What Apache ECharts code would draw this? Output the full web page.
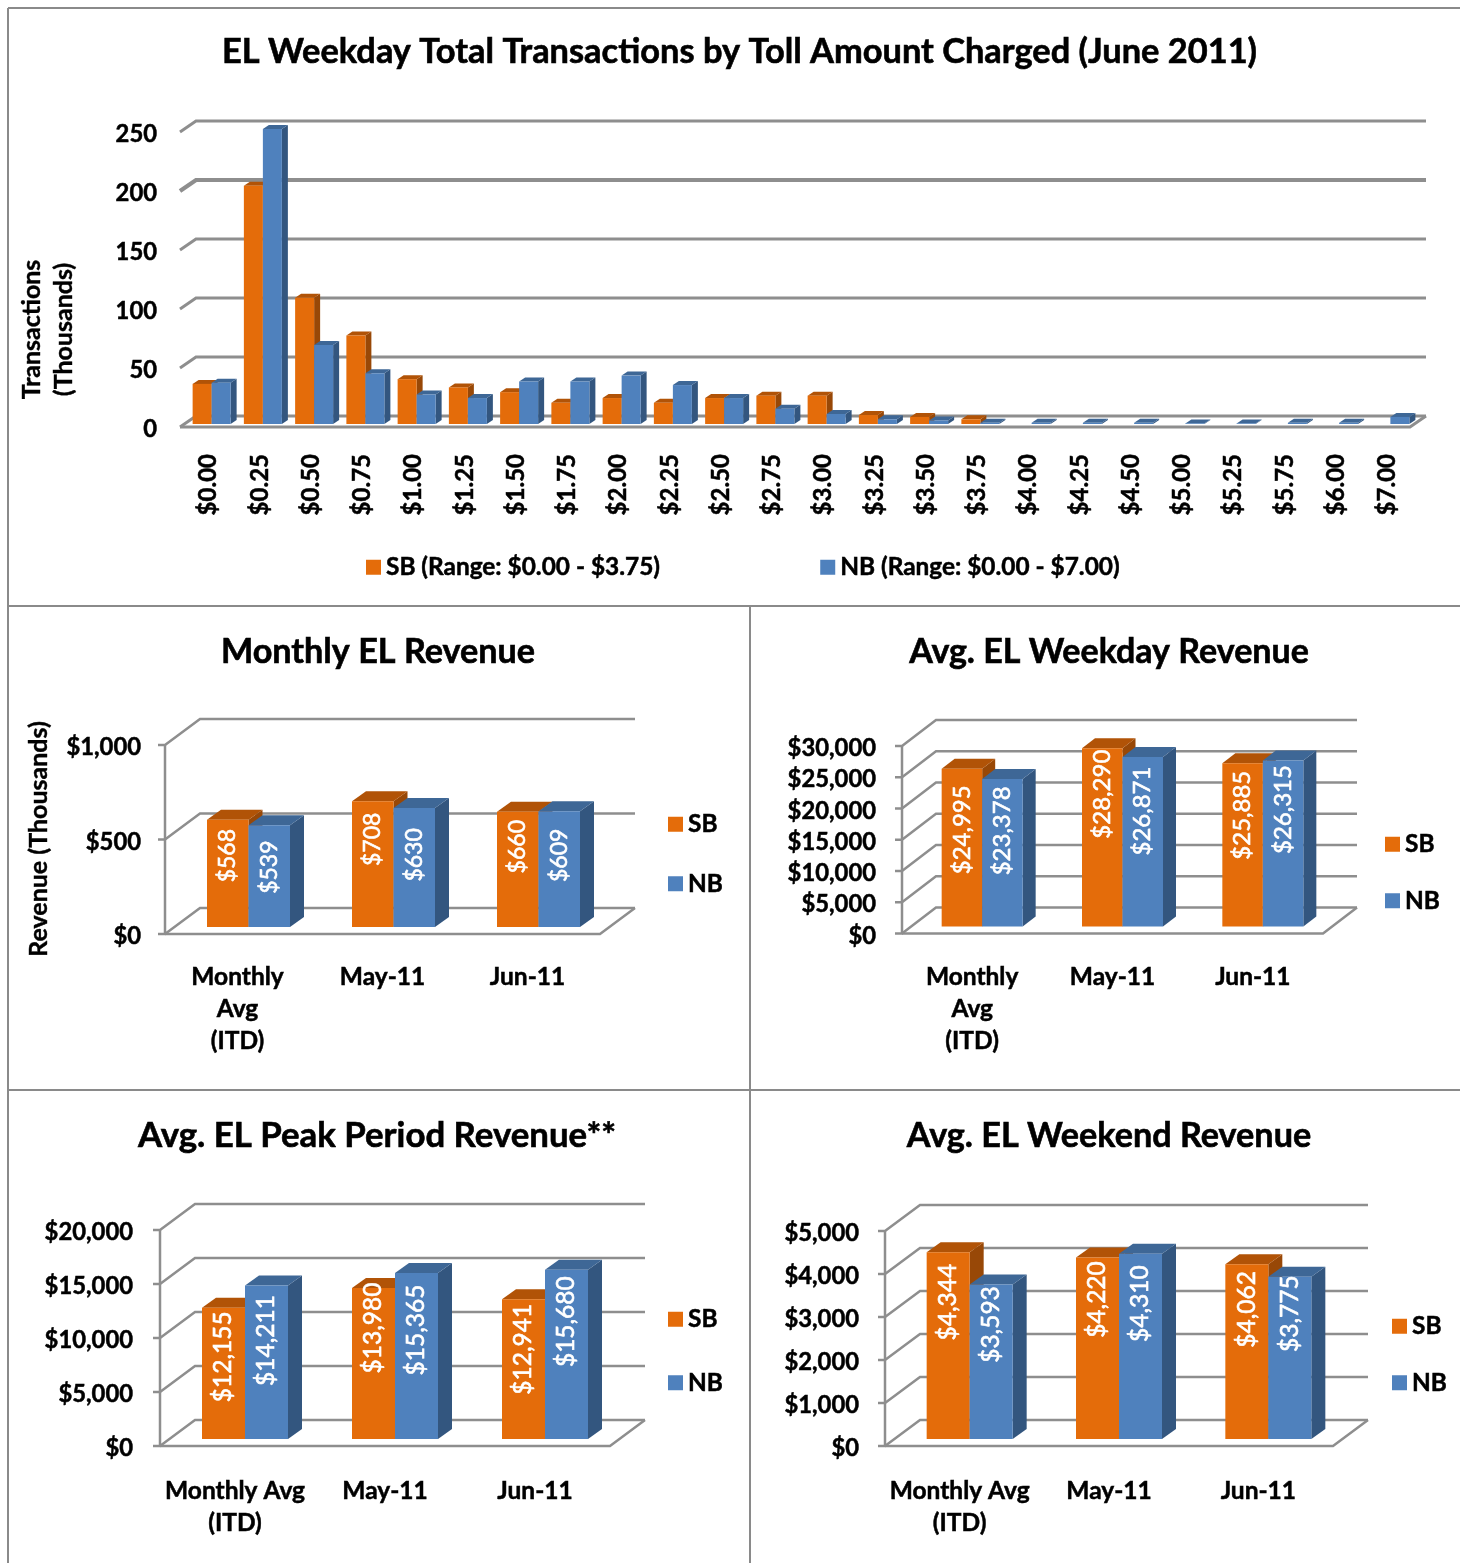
<!DOCTYPE html>
<html><head><meta charset="utf-8">
<style>html,body{margin:0;padding:0;background:#fff}#c{width:1460px;height:1563px}</style>
<script src="https://cdn.jsdelivr.net/npm/echarts@6/dist/echarts.min.js"></script>
</head><body><div id="c"></div>
<script>
// ---------- DATA ----------
const tollCategories = ['$0.00','$0.25','$0.50','$0.75','$1.00','$1.25','$1.50','$1.75','$2.00','$2.25','$2.50','$2.75','$3.00','$3.25','$3.50','$3.75','$4.00','$4.25','$4.50','$5.00','$5.25','$5.75','$6.00','$7.00'];
const tollSB = [34,202,107,75,38,31,27,18,22,18,22,24,24,7.6,6,4,null,null,null,null,null,null,null,null];
const tollNB = [35,250,67,43,25,22,36,36,41,33,22,13,8.5,4,3,1,1,1,1,0.5,0.5,1,1,6];
const tollTicks = [0,50,100,150,200,250];

const monthlyCats = ['Monthly\nAvg\n(ITD)','May-11','Jun-11'];
const monthlySB = [568,665,610];
const monthlyNB = [539,630,612];
const monthlySBLabels = ['$568','$708','$660'];
const monthlyNBLabels = ['$539','$630','$609'];
const monthlyTicks = [0,500,1000];

const weekdayCats = ['Monthly\nAvg\n(ITD)','May-11','Jun-11'];
const weekdaySB = [24995,28290,25885];
const weekdayNB = [23378,26871,26315];
const weekdayTicks = [0,5000,10000,15000,20000,25000,30000];

const peakCats = ['Monthly Avg\n(ITD)','May-11','Jun-11'];
const peakSB = [12155,13980,12941];
const peakNB = [14211,15365,15680];
const peakTicks = [0,5000,10000,15000,20000];

const weekendCats = ['Monthly Avg\n(ITD)','May-11','Jun-11'];
const weekendSB = [4344,4220,4062];
const weekendNB = [3593,4310,3775];
const weekendTicks = [0,1000,2000,3000,4000,5000];

const fmtUSD = v => '$' + v.toLocaleString('en-US');

// ---------- LAYOUT ----------
const FONT = 'Lato, "Open Sans", sans-serif';
const SB = {front:'#E46C0A', top:'#B15307', side:'#984807'};
const NB = {front:'#4F81BD', top:'#3E6796', side:'#33567F'};
const GRIDC = '#8E8E8E';
const bold = {textBorderColor:'#000', textBorderWidth:0.5};

const panels = [
 {title:'EL Weekday Total Transactions by Toll Amount Charged (June 2011)', tx:739.5, ty:52, tfs:34.4,
  left:180, top:132, width:1230, height:295, dx:16, dy:-11, tick:0, vaxis:false, lw:3,
  cats:tollCategories, ticks:tollTicks, sb:tollSB, nb:tollNB, fmt:v=>String(v),
  barW:19, depth:6, depthY:4, ox:6, oyBottom:-3, oyTop:-3, ylm:23, xlm:27, rotate:90, xfs:24,
  sbName:'SB (Range: $0.00 - $3.75)', nbName:'NB (Range: $0.00 - $7.00)'},
 {title:'Monthly EL Revenue', tx:378, ty:652, tfs:34.2,
  left:165, top:745, width:435, height:189, dx:35, dy:-26, tick:7, vaxis:true, lw:2.5,
  cats:monthlyCats, ticks:monthlyTicks, sb:monthlySB, nb:monthlyNB, fmt:fmtUSD,
  barW:41.5, depth:14, depthY:10, ox:11, oyBottom:-7, oyTop:-7, ylm:24, xlm:27, lfs:23,
  sbLabels:monthlySBLabels, nbLabels:monthlyNBLabels,
  sbDrop:[36,38,35], nbDrop:[42,47,44],
  legX:668, legY:812, legGap:35},
 {title:'Avg. EL Weekday Revenue', tx:1109, ty:652, tfs:34,
  left:902, top:746, width:421, height:187.5, dx:34, dy:-26, tick:7, vaxis:true, lw:2.5,
  cats:weekdayCats, ticks:weekdayTicks, sb:weekdaySB, nb:weekdayNB, fmt:fmtUSD,
  barW:40.5, depth:13, depthY:10, ox:10, oyBottom:-7, oyTop:-8.5, ylm:26, xlm:28, lfs:24,
  sbDrop:[61,46,52], nbDrop:[52,54,49],
  legX:1385, legY:832, legGap:32},
 {title:'Avg. EL Peak Period Revenue**', tx:377, ty:1136, tfs:34.8,
  left:160, top:1230, width:450, height:216, dx:35, dy:-26, tick:7, vaxis:true, lw:2.5,
  cats:peakCats, ticks:peakTicks, sb:peakSB, nb:peakNB, fmt:fmtUSD,
  barW:43, depth:14, depthY:10, ox:10, oyBottom:-7, oyTop:-7, ylm:27, xlm:29, lfs:24.5,
  sbDrop:[49,40,50], nbDrop:[55,57,52],
  legX:668, legY:1307, legGap:39},
 {title:'Avg. EL Weekend Revenue', tx:1109, ty:1136, tfs:34.2,
  left:885, top:1231, width:448, height:215, dx:35, dy:-26, tick:7, vaxis:true, lw:2.5,
  cats:weekendCats, ticks:weekendTicks, sb:weekendSB, nb:weekendNB, fmt:fmtUSD,
  barW:43, depth:14, depthY:10, ox:10, oyBottom:-7, oyTop:-7, ylm:26, xlm:29, lfs:24.5,
  sbDrop:[50,42,45], nbDrop:[40,50,37],
  legX:1392, legY:1314, legGap:32}
];

function gridSeries(p, idx){
  const vmax = p.ticks[p.ticks.length-1];
  return {type:'custom', xAxisIndex:idx, yAxisIndex:idx, z:2, silent:true, clip:false,
    data:p.ticks.map(v=>[0,v]),
    renderItem(params, api){
      const v = api.value(1), y = api.coord([0,v])[1], cs = params.coordSys;
      const x0 = cs.x, x1 = cs.x+cs.width;
      const w = (idx===0 && v===200) ? p.lw+1.2 : p.lw;
      const style = {stroke:GRIDC, fill:null, lineWidth:w};
      const kids = [{type:'polyline', shape:{points:[[x0-p.tick,y],[x0,y],[x0+p.dx,y+p.dy],[x1+p.dx,y+p.dy]]}, style}];
      if(v===0){
        kids.push({type:'polyline', shape:{points:[[x0,y],[x1,y],[x1+p.dx,y+p.dy]]}, style});
      }
      if(v===vmax && p.vaxis){
        kids.push({type:'line', shape:{x1:x0,y1:y,x2:x0,y2:api.coord([0,0])[1]}, style});
      }
      return {type:'group', children:kids};
    }};
}

function barSeries(p, idx, name, vals, pal, side, labels, drops){
  const data = [];
  vals.forEach((v,i)=>{ if(v!=null) data.push([i,v,i]); });
  return {type:'custom', name, xAxisIndex:idx, yAxisIndex:idx, z:3, silent:true, clip:false,
    itemStyle:{color:pal.front}, encode:{x:0,y:1},
    data,
    renderItem(params, api){
      const i = api.value(2), v = api.value(1);
      const c = api.coord([i,v]), z = api.coord([i,0]);
      const xa = c[0]+p.ox+(side<0?-p.barW:0), xb = xa+p.barW;
      const yb = z[1]+p.oyBottom;
      const yt = Math.min(c[1]+p.oyTop, yb-0.5);
      const d = p.depth, h = p.depthY;
      const kids = [
        {type:'polygon', shape:{points:[[xb,yt],[xb+d,yt-h],[xb+d,yb-h],[xb,yb]]}, style:{fill:pal.side}},
        {type:'polygon', shape:{points:[[xa,yt],[xb,yt],[xb+d,yt-h],[xa+d,yt-h]]}, style:{fill:pal.top}},
        {type:'rect', shape:{x:xa,y:yt,width:p.barW,height:yb-yt}, style:{fill:pal.front}}
      ];
      if(labels){
        kids.push({type:'text', x:(xa+xb)/2, y:yt+drops[i], rotation:Math.PI/2, z2:10,
          style:{text:labels[i], fill:'#fff', stroke:'#fff', lineWidth:0.6, font:'normal '+p.lfs+'px '+FONT, align:'center', verticalAlign:'middle'}});
      }
      return {type:'group', children:kids};
    }};
}

const option = {backgroundColor:'#fff', animation:false, title:[], grid:[], xAxis:[], yAxis:[], legend:[], series:[]};

panels.forEach((p,idx)=>{
  option.title.push({text:p.title, left:p.tx, top:p.ty, textAlign:'center', textVerticalAlign:'middle', padding:0,
    textStyle:{fontFamily:FONT, fontWeight:'bold', fontSize:p.tfs, color:'#000', textBorderColor:'#000', textBorderWidth:0.6}});
  option.grid.push({left:p.left, top:p.top, width:p.width, height:p.height, containLabel:false});
  const xLabelBase = Object.assign({fontFamily:FONT, fontWeight:'bold', color:'#000', fontSize:p.xfs||24.5, lineHeight:32}, bold);
  const xLabel = {interval:0, rotate:p.rotate||0, margin:p.xlm};
  if(p.rotate){
    xLabel.formatter = v => '{a|'+v+'}';
    xLabel.rich = {a:Object.assign({}, xLabelBase, {padding:[6,0,0,0]})};
  } else {
    Object.assign(xLabel, xLabelBase);
  }
  option.xAxis.push({type:'category', gridIndex:idx, data:p.cats, boundaryGap:true,
    axisLine:{show:false}, axisTick:{show:false}, axisLabel:xLabel});
  const vmax = p.ticks[p.ticks.length-1];
  option.yAxis.push({type:'value', gridIndex:idx, min:0, max:vmax, interval:p.ticks[1]-p.ticks[0],
    axisLine:{show:false}, axisTick:{show:false}, splitLine:{show:false},
    axisLabel:{margin:p.ylm, formatter:v=>'{a|'+p.fmt(v)+'}',
      rich:{a:Object.assign({color:'#000', fontFamily:FONT, fontWeight:'bold', fontSize:23.8, padding:[5,0,0,0]}, bold)}}});
  option.series.push(gridSeries(p,idx));
  const sbName = p.sbName||'SB', nbName = p.nbName||'NB';
  const fmtLabels = a => a.map(v=>v==null?'':fmtUSD(v));
  const sbL = p.sbDrop ? (p.sbLabels||fmtLabels(p.sb)) : null;
  const nbL = p.nbDrop ? (p.nbLabels||fmtLabels(p.nb)) : null;
  option.series.push(barSeries(p,idx,sbName,p.sb,SB,-1,sbL,p.sbDrop));
  option.series.push(barSeries(p,idx,nbName,p.nb,NB,1,nbL,p.nbDrop));
  if(idx===0){
    option.legend.push({left:366, top:555, orient:'horizontal', itemGap:160, itemWidth:15, itemHeight:15, padding:0, selectedMode:false,
      data:[{name:sbName,icon:'rect'},{name:nbName,icon:'rect'}],
      textStyle:Object.assign({fontFamily:FONT, fontWeight:'bold', fontSize:24.4, color:'#000'}, bold)});
  } else {
    option.legend.push({left:p.legX, top:p.legY, orient:'vertical', itemGap:p.legGap, itemWidth:15, itemHeight:15, padding:0, selectedMode:false,
      data:[{name:'SB',icon:'rect'},{name:'NB',icon:'rect'}],
      textStyle:Object.assign({fontFamily:FONT, fontWeight:'bold', fontSize:24.4, color:'#000'}, bold)});
  }
});

const axisTitle = (text,x,y)=>({type:'text', x, y, rotation:Math.PI/2,
  style:{text, fill:'#000', stroke:'#000', lineWidth:0.4, font:'bold 25px '+FONT, align:'center', verticalAlign:'middle', lineHeight:32}});
const frame = (x1,y1,x2,y2)=>({type:'line', shape:{x1,y1,x2,y2}, style:{stroke:'#8A8A8A', lineWidth:2}});
option.graphic = [
  frame(8,8,1460,8), frame(8,8,8,1563), frame(8,606,1460,606), frame(750,606,750,1563), frame(8,1090,1460,1090),
  axisTitle('Transactions\n(Thousands)',48,329.5),
  axisTitle('Revenue (Thousands)',39,839)
];

const chart = echarts.init(document.getElementById('c'), null, {renderer:'canvas', width:1460, height:1563});
chart.setOption(option);
</script></body></html>
